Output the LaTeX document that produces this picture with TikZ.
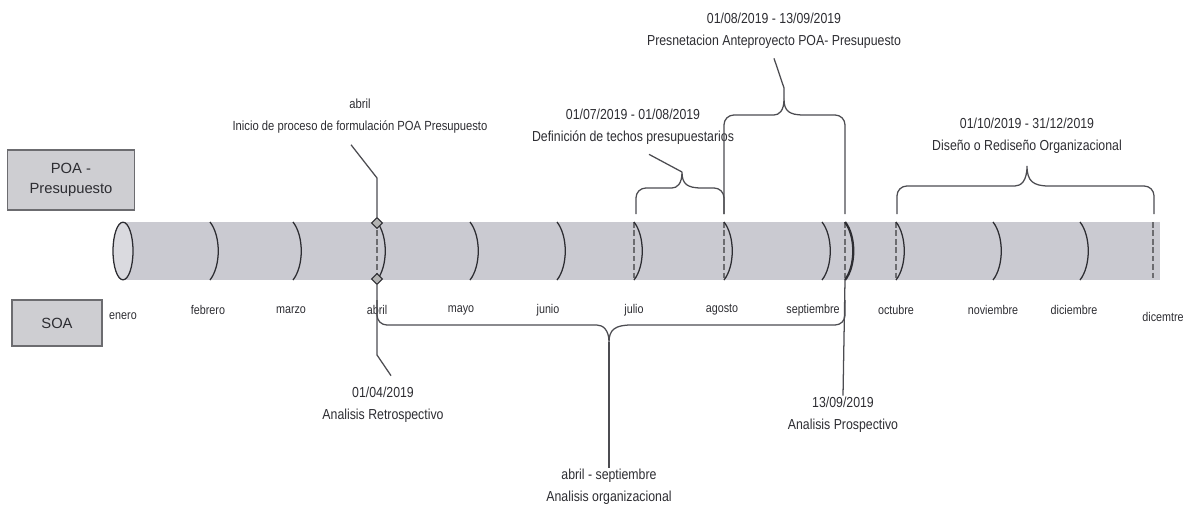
\documentclass[tikz,border=0pt]{standalone}
\usepackage{fontspec}
\setmainfont{Liberation Sans}
\newfontfamily\narrowfont[FakeStretch=0.85]{Liberation Sans}
\usetikzlibrary{shapes.geometric,positioning,calc}

\definecolor{bandgray}{RGB}{202,202,209}
\definecolor{boxgray}{RGB}{206,206,210}
\definecolor{inkgray}{RGB}{45,45,50}

\tikzset{
  lbl/.style={font=\narrowfont\fontsize{10.3}{15.5}\selectfont, text=inkgray, align=center, inner sep=1pt},
  mes/.style={font=\narrowfont\fontsize{9}{11}\selectfont, text=inkgray, inner sep=1pt},
  sidebox/.style={draw=inkgray!70, fill=boxgray, line width=0.8pt, align=center,
    font=\fontsize{10.5}{14}\selectfont, text=inkgray},
  cut/.style={draw=inkgray, line width=0.9pt},
  guide/.style={draw=inkgray!70, line width=0.9pt, dash pattern=on 4pt off 2pt},
  conn/.style={draw=inkgray!85, line width=0.9pt},
  llave/.style={draw=inkgray!85, line width=0.9pt, rounded corners=7pt},
  rombo/.style={diamond, draw=inkgray, fill=gray!60, inner sep=0pt, minimum size=8pt, line width=0.8pt},
}

\begin{document}
\begin{tikzpicture}[x=0.025cm, y=-0.025cm]
\useasboundingbox (0,0) rectangle (1187,508);

% Cajas laterales
\node[sidebox, minimum width=3.18cm, minimum height=1.5cm] (poa) at (71,180) {POA -\\Presupuesto};
\node[sidebox, minimum width=2.25cm, minimum height=1.15cm] (soa) at (57,323) {SOA};

% Banda del año
\fill[bandgray] (123,222) rectangle (1160,280);
\draw[cut, fill=bandgray!70!white] (123,251) ellipse [x radius=0.25cm, y radius=0.72cm];
\foreach \m in {210,293,470,557,822,993,1080}
  \draw[cut] (\m,222) .. controls (\m+11,236) and (\m+11,266) .. (\m,280);
\foreach \m in {377,634,724,896} {
  \draw[guide] (\m,222) -- (\m,280);
  \draw[cut] (\m,222) .. controls (\m+11,236) and (\m+11,266) .. (\m,280);
}
\draw[guide] (845,222) -- (845,280);
\draw[cut, line width=1.6pt] (845,222) .. controls (856,236) and (856,266) .. (845,280);
\draw[guide, line width=1.6pt] (1153,222) -- (1153,280);

% Meses
\node[mes] (ene) at (123,316) {enero};
\node[mes] (feb) at (208,310) {febrero};
\node[mes] (mar) at (291,310) {marzo};
\node[mes] (abr) at (377,310) {abril};
\node[mes] (may) at (461,310) {mayo};
\node[mes] (jun) at (548,310) {junio};
\node[mes] (jul) at (634,310) {julio};
\node[mes] (ago) at (722,310) {agosto};
\node[mes] (sep) at (813,310) {septiembre};
\node[mes] (oct) at (896,310) {octubre};
\node[mes] (nov) at (993,310) {noviembre};
\node[mes] (dic) at (1074,310) {diciembre};
\node[mes] (dic2) at (1163,317) {dicemtre};

% Hitos de abril
\node[rombo] (dtop) at (377,223) {};
\node[rombo] (dbot) at (377,279) {};

% Extremos de las llaves
\coordinate (c-jul) at (636,214);
\coordinate (c-ago) at (724,214);
\coordinate (c-sep) at (845,214);
\coordinate (c-oct) at (897,214);
\coordinate (c-dic) at (1154,214);

% Etiquetas
\node[lbl, font=\narrowfont\fontsize{9.4}{15.5}\selectfont] (inicio) at (360,116) {abril\\Inicio de proceso de formulación POA Presupuesto};
\node[lbl] (techos) at (633,127) {01/07/2019 - 01/08/2019\\Definición de techos presupuestarios};
\node[lbl] (antep) at (774,31) {01/08/2019 - 13/09/2019\\Presnetacion Anteproyecto POA- Presupuesto};
\node[lbl] (diseno) at (1027,136) {01/10/2019 - 31/12/2019\\Diseño o Rediseño Organizacional};
\node[lbl] (retro) at (383,405) {01/04/2019\\Analisis Retrospectivo};
\node[lbl] (prosp) at (843,415) {13/09/2019\\Analisis Prospectivo};
\node[lbl] (organ) at (609,487) {abril - septiembre\\Analisis organizacional};

% Llaves superiores
\coordinate (t-techos) at (682,172);
\coordinate (t-antep) at (784,99);
\coordinate (t-diseno) at (1027,166);
\draw[llave] (c-jul) -- (636,188) -- (662,188) [sharp corners]
  .. controls (677,188) and (682,184) .. (t-techos)
  .. controls (682,184) and (687,188) .. (702,188) [rounded corners=7pt] -- (724,188) -- (c-ago);
\draw[llave] (c-ago) -- (724,115) -- (764,115) [sharp corners]
  .. controls (779,115) and (784,111) .. (t-antep)
  .. controls (784,111) and (789,115) .. (804,115) [rounded corners=7pt] -- (845,115) -- (c-sep);
\draw[llave] (c-oct) -- (897,186) -- (1005,186) [sharp corners]
  .. controls (1021,186) and (1027,181) .. (t-diseno)
  .. controls (1027,181) and (1033,186) .. (1049,186) [rounded corners=7pt] -- (1154,186) -- (c-dic);

% Llave inferior
\coordinate (t-organ) at (609,342);
\draw[llave] (377,300) -- (377,325) -- (587,325) [sharp corners]
  .. controls (603,325) and (609,330) .. (t-organ)
  .. controls (609,330) and (615,325) .. (631,325) [rounded corners=7pt] -- (845,325) -- (845,300);

% Conectores
\draw[conn] (dtop) -- (377,178) -- ($(inicio.south)+(-9,10)$);
\draw[conn] (dbot) -- (377,355) -- ($(retro.north)+(8,-10)$);
\draw[conn] (t-techos) -- ($(techos.south)+(16,8)$);
\draw[conn] (t-antep) -- (784,88) -- ($(antep.south)+(0,8)$);
\draw[conn] (845,280) -- (prosp.north);
\draw[conn] (t-organ) -- (organ.north);
\end{tikzpicture}
\end{document}
